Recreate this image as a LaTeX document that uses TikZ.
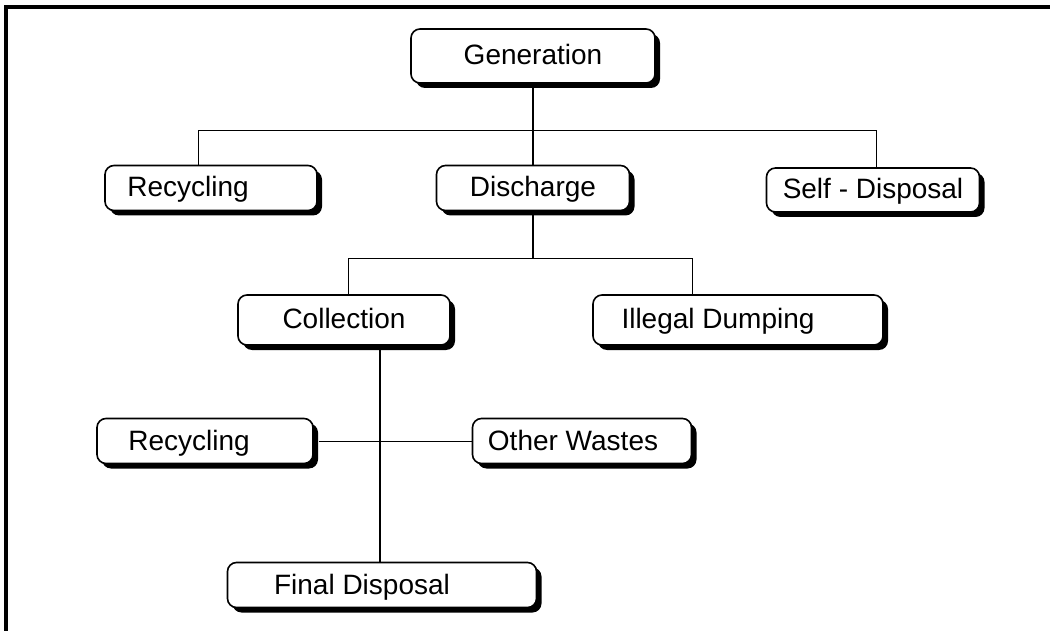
\documentclass[tikz,border=0pt]{standalone}
\usepackage{fontspec}
\setmainfont{Liberation Sans}
\usetikzlibrary{shadows}
\begin{document}
\begin{tikzpicture}[x=1pt,y=-1pt,
  box/.style={draw=black, line width=1.6pt, fill=white, rounded corners=9pt,
    inner sep=0pt, font=\fontsize{28}{32}\selectfont, text height=20pt, text depth=2pt,
    drop shadow={fill=black, opacity=1, shadow xshift=5pt, shadow yshift=-5pt}},
  link/.style={line width=1.5pt},
  thin link/.style={line width=1pt}]
\useasboundingbox (0,0) rectangle (1053,631);
% frame
\draw[line width=3.5pt] (6,631) -- (6,7) -- (1050,7);
% nodes
\node[box, minimum width=244pt, minimum height=54pt] (gen) at (533,56) {Generation};
\node[box, minimum width=212pt, minimum height=45pt] (rec1) at (211,188) {Recycling\kern46pt};
\node[box, minimum width=193pt, minimum height=45pt] (dis) at (533,188) {Discharge};
\node[box, minimum width=213pt, minimum height=44pt] (self) at (873,190) {Self - Disposal};
\node[box, minimum width=212pt, minimum height=50pt] (col) at (344,320) {Collection};
\node[box, minimum width=290pt, minimum height=50pt] (ill) at (738,320) {Illegal Dumping\kern40pt};
\node[box, minimum width=216pt, minimum height=45pt] (rec2) at (205,441) {Recycling\kern32pt};
\node[box, minimum width=219pt, minimum height=45pt] (oth) at (582,441) {Other Wastes\kern18pt};
\node[box, minimum width=309pt, minimum height=45pt] (fin) at (382,585) {Final Disposal\kern40pt};
% junction coordinates
\coordinate (b1) at (198,131);
\coordinate (b2) at (876,131);
\coordinate (b3) at (348,259);
\coordinate (b4) at (692,259);
\coordinate (c1) at (380,0);
% connectors
\draw[link] (gen.south) -- (dis.north);
\draw[thin link] (rec1.north -| b1) |- (b2) -- (self.north -| b2);
\draw[link] (dis.south) -- (dis.south |- b3);
\draw[thin link] (col.north -| b3) |- (b4) -- (ill.north -| b4);
\draw[link] (col.south -| c1) -- (fin.north -| c1);
\draw[thin link] ([xshift=5pt]rec2.east) -- (oth.west);
\end{tikzpicture}
\end{document}
